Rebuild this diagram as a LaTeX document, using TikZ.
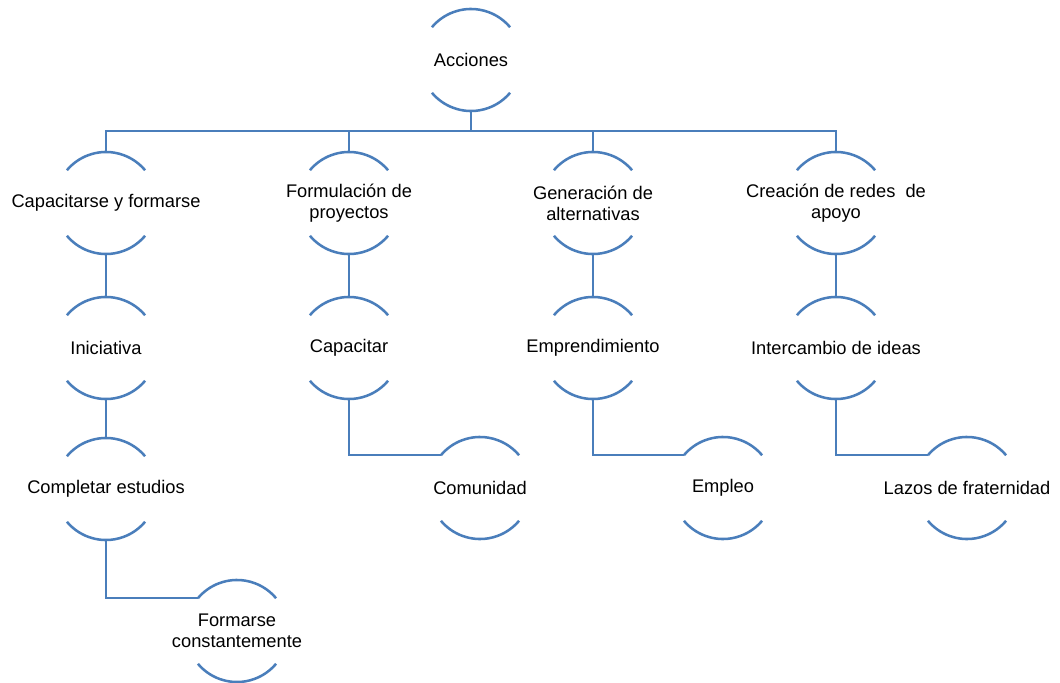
\documentclass[tikz,border=0pt]{standalone}
\usepackage{fontspec}
\setmainfont{Liberation Sans}
\definecolor{lineblue}{RGB}{74,126,187}
\tikzset{
  ring/.style={circle,minimum size=2.55cm,inner sep=0pt,outer sep=0pt},
  link/.style={draw=lineblue,line width=1.8pt},
  txt/.style={font=\fontsize{13}{15}\selectfont,align=center}
}
\newcommand\arcs[1]{\draw[link] (#1.140) arc[start angle=140,end angle=40,radius=1.275cm]
  (#1.220) arc[start angle=220,end angle=320,radius=1.275cm];}

\begin{document}
\begin{tikzpicture}[x=0.025cm,y=-0.025cm]
\useasboundingbox (0,0) rectangle (1060,683);

\node[ring,label={[txt]center:Acciones}] (acc) at (471,60) {};

\node[ring,label={[txt]center:Capacitarse y formarse}] (cf) at (106,203) {};
\node[ring,label={[txt]center:{Formulación de\\proyectos}}] (fp) at (349,203) {};
\node[ring,label={[txt]center:{Generación de\\alternativas}}] (ga) at (593,203) {};
\node[ring,label={[txt]center:{Creación de redes~ de\\apoyo}}] (cr) at (836,203) {};

\node[ring,label={[txt]center:Iniciativa}] (ini) at (106,348) {};
\node[ring,label={[txt]center:Capacitar}] (cap) at (349,348) {};
\node[ring,label={[txt]center:Emprendimiento}] (emp) at (593,348) {};
\node[ring,label={[txt]center:Intercambio de ideas}] (int) at (836,348) {};

\node[ring,label={[txt]center:Completar estudios}] (ce) at (106,489) {};
\node[ring,label={[txt]center:Comunidad}] (com) at (480,488) {};
\node[ring,label={[txt]center:Empleo}] (emo) at (723,488) {};
\node[ring,label={[txt]center:Lazos de fraternidad}] (laz) at (967,488) {};

\node[ring,label={[txt]center:{Formarse\\constantemente}}] (fc) at (237,631) {};

\coordinate (bus) at (471,131);

% arcs
\foreach \n in {acc,cf,fp,ga,cr,ini,cap,emp,int,ce,com,emo,laz,fc}
  {\arcs{\n}}

% connectors
\draw[link] (acc.south) -- (bus);
\draw[link] (cf.north) -- (cf.north |- bus) -- (cr.north |- bus) -- (cr.north);
\draw[link] (fp.north) -- (fp.north |- bus);
\draw[link] (ga.north) -- (ga.north |- bus);

\draw[link] (cf.south) -- (ini.north);
\draw[link] (fp.south) -- (cap.north);
\draw[link] (ga.south) -- (emp.north);
\draw[link] (cr.south) -- (int.north);

\draw[link] (ini.south) -- (ce.north);
\draw[link] (cap.south) |- (com.140);
\draw[link] (emp.south) |- (emo.140);
\draw[link] (int.south) |- (laz.140);
\draw[link] (ce.south) |- (fc.140);

\end{tikzpicture}
\end{document}
